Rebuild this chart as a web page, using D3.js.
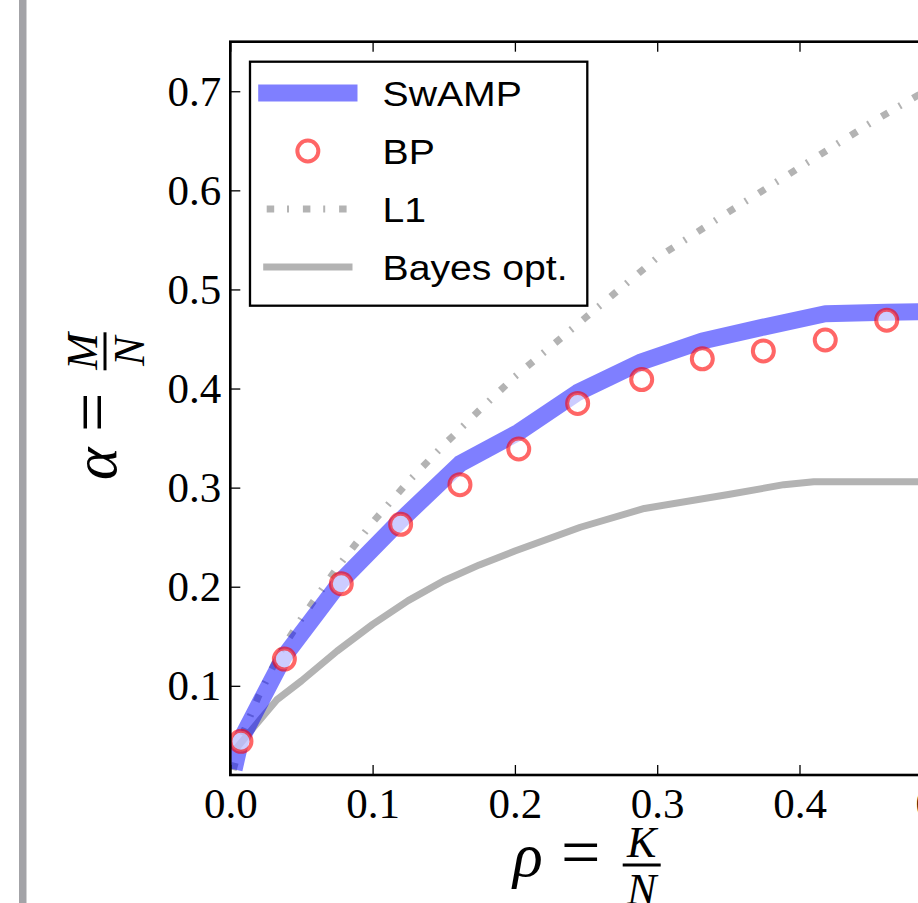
<!DOCTYPE html>
<html>
<head>
<meta charset="utf-8">
<script src="https://cdn.jsdelivr.net/npm/d3@7"></script>
<style>
  html, body { margin: 0; padding: 0; background: #ffffff; overflow: hidden; }
  svg { display: block; }
</style>
</head>
<body>
<svg id="chart" width="918" height="903"></svg>
<script>
// ---- data: phase transition lines alpha = M/N versus rho = K/N ----
const swampRho   = [0.004, 0.0075, 0.038, 0.078, 0.1197, 0.1614, 0.2027, 0.2441, 0.2891, 0.3317, 0.3746, 0.4181, 0.4613, 0.5];
const swampAlpha = [0.024, 0.046, 0.13, 0.206, 0.267, 0.324, 0.356, 0.396, 0.427, 0.448, 0.462, 0.4755, 0.477, 0.478];

const bpRho   = [0.0075, 0.038, 0.078, 0.1197, 0.1614, 0.2027, 0.2441, 0.2891, 0.3317, 0.3746, 0.4181, 0.4613];
const bpAlpha = [0.044, 0.127, 0.203, 0.263, 0.303, 0.339, 0.385, 0.409, 0.430, 0.438, 0.449, 0.469];

const l1Rho   = [0.002, 0.01, 0.02, 0.035, 0.05, 0.075, 0.1, 0.125, 0.15, 0.175, 0.2, 0.25, 0.3, 0.35, 0.4, 0.45, 0.5];
const l1Alpha = [0.015, 0.056, 0.09, 0.134, 0.168, 0.219, 0.265, 0.306, 0.343, 0.378, 0.412, 0.472, 0.532, 0.578, 0.623, 0.668, 0.71];

const bayesRho   = [0.006, 0.016, 0.0326, 0.05, 0.075, 0.1, 0.125, 0.15, 0.175, 0.2, 0.246, 0.291, 0.35, 0.389, 0.41, 0.5];
const bayesAlpha = [0.04, 0.0573, 0.0858, 0.105, 0.135, 0.162, 0.186, 0.206, 0.222, 0.236, 0.26, 0.279, 0.293, 0.303, 0.306, 0.306];

const xTicks = [0.0, 0.1, 0.2, 0.3, 0.4, 0.5];
const yTicks = [0.1, 0.2, 0.3, 0.4, 0.5, 0.6, 0.7];
const legendLabels = ["SwAMP", "BP", "L1", "Bayes opt."];

// ---- layout ----
const svg = d3.select("#chart");
const W = 918, H = 903;
const plotLeft = 230.3, plotRight = 941.8, plotTop = 41.7, plotBottom = 775;

const x = d3.scaleLinear().domain([0, 0.5]).range([plotLeft, plotRight]);
const y = d3.scaleLinear().domain([0.01, 0.75]).range([plotBottom, plotTop]);

const serif = "'Liberation Serif', 'Times New Roman', serif";
const sans = "'Liberation Sans', Arial, Helvetica, sans-serif";

svg.append("rect").attr("width", W).attr("height", H).attr("fill", "#ffffff");

// slide edge strip on the left
svg.append("rect").attr("x", 19).attr("y", 0).attr("width", 7.5).attr("height", H).attr("fill", "#a3a3a7");

const zip = (a, b) => a.map((v, i) => [v, b[i]]);
const line = d3.line().x(d => x(d[0])).y(d => y(d[1]));

svg.append("defs").append("clipPath").attr("id", "plotClip")
  .append("rect").attr("x", plotLeft).attr("y", plotTop)
  .attr("width", plotRight - plotLeft).attr("height", plotBottom - plotTop);

const plot = svg.append("g").attr("clip-path", "url(#plotClip)");

const styles = {
  swamp: { stroke: "rgba(0,0,255,0.5)", width: 17 },
  l1:    { stroke: "#b3b3b3", width: 7, dash: "7.5,12.8,2,13.9" },
  bayes: { stroke: "#b3b3b3", width: 7 }
};

// L1 (dash-dot)
plot.append("path").datum(zip(l1Rho, l1Alpha))
  .attr("d", line).attr("fill", "none")
  .attr("stroke", styles.l1.stroke).attr("stroke-width", styles.l1.width)
  .attr("stroke-dasharray", styles.l1.dash).attr("stroke-linecap", "butt");

// Bayes optimal
plot.append("path").datum(zip(bayesRho, bayesAlpha))
  .attr("d", line).attr("fill", "none")
  .attr("stroke", styles.bayes.stroke).attr("stroke-width", styles.bayes.width)
  .attr("stroke-linecap", "square").attr("stroke-linejoin", "round");

// SwAMP
plot.append("path").datum(zip(swampRho, swampAlpha))
  .attr("d", line).attr("fill", "none")
  .attr("stroke", styles.swamp.stroke).attr("stroke-width", styles.swamp.width)
  .attr("stroke-linecap", "square").attr("stroke-linejoin", "round");

// BP markers
plot.selectAll("circle.bp").data(zip(bpRho, bpAlpha)).enter().append("circle")
  .attr("class", "bp")
  .attr("cx", d => x(d[0])).attr("cy", d => y(d[1])).attr("r", 10.5)
  .attr("fill", "rgba(255,255,255,0.6)")
  .attr("stroke", "rgba(255,0,0,0.6)").attr("stroke-width", 4);

// ---- axes (ticks pointing inward on all four sides) ----
function styleAxis(g) {
  g.select(".domain").remove();
  g.selectAll(".tick line").attr("stroke", "#000").attr("stroke-width", 1.3);
  g.selectAll(".tick text").attr("font-family", serif).attr("font-size", 43).attr("fill", "#000");
}

svg.append("g").attr("transform", `translate(0,${plotBottom})`)
  .call(d3.axisBottom(x).tickValues(xTicks).tickFormat(d3.format(".1f")).tickSizeInner(-10).tickSizeOuter(0).tickPadding(12.5))
  .call(styleAxis);

svg.append("g").attr("transform", `translate(0,${plotTop})`)
  .call(d3.axisTop(x).tickValues(xTicks).tickFormat("").tickSizeInner(-10).tickSizeOuter(0))
  .call(styleAxis);

svg.append("g").attr("transform", `translate(${plotLeft},0)`)
  .call(d3.axisLeft(y).tickValues(yTicks).tickFormat(d3.format(".1f")).tickSizeInner(-10).tickSizeOuter(0).tickPadding(9))
  .call(styleAxis);

svg.append("g").attr("transform", `translate(${plotRight},0)`)
  .call(d3.axisRight(y).tickValues(yTicks).tickFormat("").tickSizeInner(-10).tickSizeOuter(0))
  .call(styleAxis);

// frame
svg.append("rect").attr("x", plotLeft).attr("y", plotTop)
  .attr("width", plotRight - plotLeft).attr("height", plotBottom - plotTop)
  .attr("fill", "none").attr("stroke", "#000").attr("stroke-width", 2.6);

// ---- axis labels (fraction notation) ----
function mathLabel(g, mainSym, num, den) {
  // baseline at v = 0; fraction bar on the math axis
  const barY = -11;
  g.append("text").attr("x", 0).attr("y", 0)
    .attr("font-family", serif).attr("font-style", "italic").attr("font-size", 62)
    .text(mainSym);
  g.append("text").attr("x", 48).attr("y", 0)
    .attr("font-family", serif).attr("font-size", 70)
    .text("=");
  const fx = 128.7;
  g.append("line").attr("x1", fx - 19).attr("x2", fx + 19).attr("y1", barY).attr("y2", barY)
    .attr("stroke", "#000").attr("stroke-width", 3);
  g.append("text").attr("x", fx).attr("y", barY - 8).attr("text-anchor", "middle")
    .attr("font-family", serif).attr("font-style", "italic").attr("font-size", 44)
    .text(num);
  g.append("text").attr("x", fx).attr("y", barY + 39).attr("text-anchor", "middle")
    .attr("font-family", serif).attr("font-style", "italic").attr("font-size", 44)
    .text(den);
}

mathLabel(svg.append("g").attr("transform", "translate(513,876)"), "ρ", "K", "N");
mathLabel(svg.append("g").attr("transform", "translate(116,480) rotate(-90)"), "α", "M", "N");

// ---- legend ----
const lg = svg.append("g");
lg.append("rect").attr("x", 250).attr("y", 61.7).attr("width", 337.3).attr("height", 244)
  .attr("fill", "#ffffff").attr("stroke", "#000").attr("stroke-width", 2.3);

const rowY = [93, 151, 209, 267];
const hx0 = 266.7, hx1 = 349;

lg.append("line").attr("x1", hx0).attr("x2", hx1).attr("y1", rowY[0]).attr("y2", rowY[0])
  .attr("stroke", styles.swamp.stroke).attr("stroke-width", styles.swamp.width).attr("stroke-linecap", "square");
lg.append("circle").attr("cx", (hx0 + hx1) / 2).attr("cy", rowY[1]).attr("r", 10.5)
  .attr("fill", "rgba(255,255,255,0.6)").attr("stroke", "rgba(255,0,0,0.6)").attr("stroke-width", 4);
lg.append("line").attr("x1", hx0).attr("x2", hx1 + 4).attr("y1", rowY[2]).attr("y2", rowY[2])
  .attr("stroke", styles.l1.stroke).attr("stroke-width", styles.l1.width)
  .attr("stroke-dasharray", styles.l1.dash).attr("stroke-linecap", "butt");
lg.append("line").attr("x1", hx0).attr("x2", hx1).attr("y1", rowY[3]).attr("y2", rowY[3])
  .attr("stroke", styles.bayes.stroke).attr("stroke-width", styles.bayes.width).attr("stroke-linecap", "square");

legendLabels.forEach((t, i) => {
  lg.append("text")
    .attr("transform", `translate(382.5,${rowY[i] + 12.5}) scale(1.12,1)`)
    .attr("font-family", sans).attr("font-size", 35).attr("fill", "#000")
    .text(t);
});
</script>
</body>
</html>
